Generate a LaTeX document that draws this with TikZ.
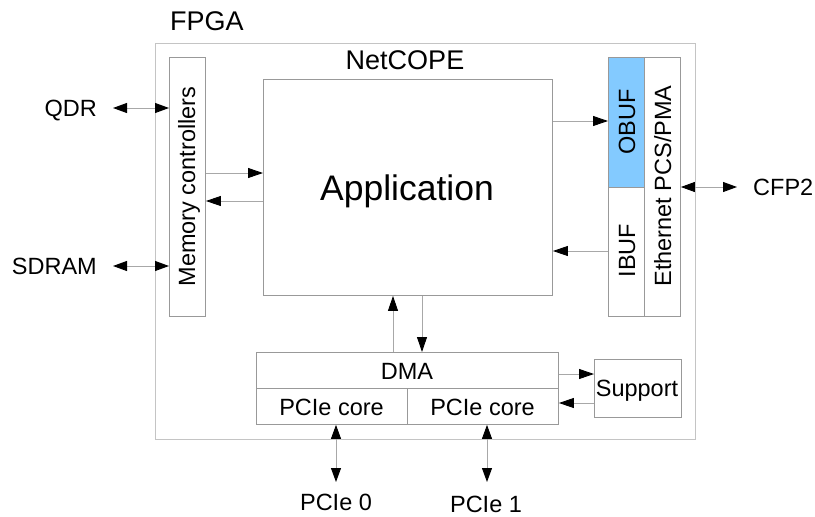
\documentclass[tikz,border=0pt]{standalone}
\usepackage{fontspec}
\setmainfont{Liberation Sans}
\usetikzlibrary{arrows.meta}
\definecolor{boxline}{HTML}{999999}
\definecolor{outerline}{HTML}{C4C4C4}
\definecolor{arrline}{HTML}{A8A8A8}
\definecolor{obufblue}{HTML}{83CAFF}
\begin{document}
\begin{tikzpicture}[x=1pt,y=-1pt,
  font=\fontsize{23.5}{28}\selectfont,
  blk/.style={draw=boxline,line width=0.9pt,rectangle,inner sep=0pt,anchor=north west},
  txt/.style={inner sep=0pt,anchor=base},
  vtxt/.style={inner sep=0pt,anchor=base,rotate=90},
  title/.style={inner sep=0pt,anchor=base,font=\fontsize{27}{32}\selectfont},
  arr/.style={draw=arrline,line width=0.9pt,-{Triangle[black,length=15pt,width=10pt]}},
  darr/.style={draw=arrline,line width=0.9pt,{Triangle[black,length=14pt,width=10pt]}-{Triangle[black,length=14pt,width=10pt]}}]
\useasboundingbox (0,0) rectangle (815,517);
% outer FPGA
\node[blk,draw=outerline,minimum width=540pt,minimum height=396pt] (fpga) at (155,43) {};
\node[title,anchor=base west] (fpgal) at (170,30) {FPGA};
\node[title] (netcope) at (405,69) {NetCOPE};
% memory controllers
\node[blk,minimum width=36pt,minimum height=259pt] (mem) at (169,57) {};
\node[vtxt] (meml) at (195,186.5) {Memory controllers};
% application
\node[blk,minimum width=289pt,minimum height=216pt] (app) at (263,79) {};
\node[txt,font=\fontsize{35.5}{40}\selectfont] (appl) at (407,200) {Application};
% OBUF / IBUF / Ethernet
\node[blk,fill=obufblue,minimum width=36pt,minimum height=130pt] (obuf) at (608,57) {};
\node[vtxt] (obufl) at (635,122) {OBUF};
\node[blk,minimum width=36pt,minimum height=129pt] (ibuf) at (608,187) {};
\node[vtxt] (ibufl) at (635,250.5) {IBUF};
\node[blk,minimum width=36pt,minimum height=259pt] (eth) at (644,57) {};
\node[vtxt] (ethl) at (671,186) {Ethernet PCS/PMA};
% DMA and PCIe cores
\node[blk,minimum width=302pt,minimum height=36pt] (dma) at (256,352) {};
\node[txt] (dmal) at (407,379) {DMA};
\node[blk,minimum width=151pt,minimum height=36pt] (pc0) at (256,388) {};
\node[txt] (pc0l) at (331.5,415) {PCIe core};
\node[blk,minimum width=151pt,minimum height=36pt] (pc1) at (407,388) {};
\node[txt] (pc1l) at (482.5,415) {PCIe core};
% Support
\node[blk,minimum width=87pt,minimum height=58pt] (sup) at (594,359) {};
\node[txt] (supl) at (637,396.5) {Support};
% external labels
\node[txt,anchor=base east] (qdr) at (97,116.5) {QDR};
\node[txt,anchor=base east] (sdram) at (97,274) {SDRAM};
\node[txt,anchor=base west] (cfp) at (753,195) {CFP2};
\node[txt] (pcie0) at (336,510) {PCIe 0};
\node[txt] (pcie1) at (486,512) {PCIe 1};
% free ends
\coordinate (qdrE) at (113,108);
\coordinate (sdrE) at (113,266);
\coordinate (cfpE) at (737,187);
\coordinate (p0E) at (336,482);
\coordinate (p1E) at (487,482);
% connectors
\draw[darr] (qdrE) -- (mem.west |- qdrE);
\draw[darr] (sdrE) -- (mem.west |- sdrE);
\draw[darr] (eth.east |- cfpE) -- (cfpE);
\draw[darr] (pc0.south -| p0E) -- (p0E);
\draw[darr] (pc1.south -| p1E) -- (p1E);
\draw[arr] (mem.east |- 0,173) -- (app.west |- 0,173);
\draw[arr] (app.west |- 0,201) -- (mem.east |- 0,201);
\draw[arr] (app.east |- 0,121) -- (obuf.west |- 0,121);
\draw[arr] (ibuf.west |- 0,251) -- (app.east |- 0,251);
\draw[arr] (dma.north -| 393,0) -- (app.south -| 393,0);
\draw[arr] (app.south -| 422,0) -- (dma.north -| 422,0);
\draw[arr] (dma.east |- 0,374) -- (sup.west |- 0,374);
\draw[arr] (sup.west |- 0,403) -- (dma.east |- 0,403);
\end{tikzpicture}
\end{document}
